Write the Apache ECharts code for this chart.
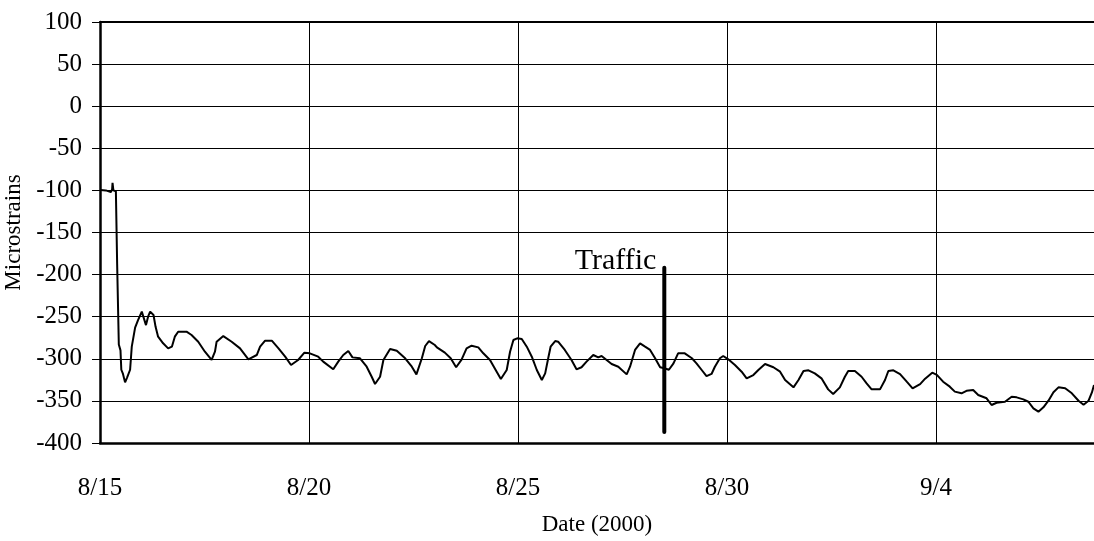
<!DOCTYPE html>
<html>
<head>
<meta charset="utf-8">
<script src="https://cdn.jsdelivr.net/npm/echarts@6/dist/echarts.min.js"></script>
<style>
  html, body { margin: 0; padding: 0; background: #fff; }
  #chart { width: 1094px; height: 541px; }
</style>
</head>
<body>
<div id="chart"></div>
<script>
// Strain gauge record, days counted from 8/15/2000 00:00
const days = [
  0.01, 0.14, 0.17, 0.26, 0.29, 0.30, 0.32, 0.38, 0.41, 0.44, 0.45, 0.49, 0.51, 0.55, 0.60, 0.65,
  0.72, 0.76, 0.84, 0.91, 1.00, 1.04, 1.10, 1.15, 1.20, 1.28, 1.33, 1.39, 1.51, 1.63, 1.72, 1.79,
  1.87, 2.07, 2.19, 2.35, 2.51, 2.67, 2.75, 2.79, 2.95, 3.15, 3.35, 3.55, 3.75, 3.83, 3.95, 4.11,
  4.27, 4.43, 4.57, 4.74, 4.89, 5.02, 5.22, 5.34, 5.58, 5.70, 5.82, 5.94, 6.04, 6.22, 6.38, 6.50,
  6.58, 6.70, 6.78, 6.94, 7.10, 7.30, 7.46, 7.57, 7.70, 7.78, 7.87, 8.01, 8.06, 8.25, 8.39, 8.52,
  8.65, 8.77, 8.89, 9.05, 9.17, 9.33, 9.49, 9.59, 9.73, 9.81, 9.89, 9.98, 10.09, 10.21, 10.33, 10.45,
  10.57, 10.65, 10.73, 10.78, 10.89, 10.96, 11.12, 11.28, 11.40, 11.52, 11.64, 11.80, 11.92, 12.00, 12.12, 12.24,
  12.40, 12.60, 12.68, 12.80, 12.92, 13.04, 13.16, 13.28, 13.40, 13.48, 13.61, 13.72, 13.83, 13.99, 14.16, 14.27,
  14.39, 14.51, 14.63, 14.71, 14.83, 14.91, 15.03, 15.19, 15.35, 15.47, 15.63, 15.75, 15.91, 16.11, 16.27, 16.39,
  16.59, 16.71, 16.83, 16.95, 17.10, 17.26, 17.42, 17.54, 17.70, 17.82, 17.90, 18.06, 18.22, 18.34, 18.46, 18.66,
  18.78, 18.86, 18.98, 19.14, 19.30, 19.44, 19.62, 19.74, 19.91, 20.02, 20.17, 20.33, 20.45, 20.61, 20.73, 20.89,
  21.01, 21.21, 21.33, 21.45, 21.65, 21.81, 21.93, 22.09, 22.21, 22.33, 22.45, 22.57, 22.69, 22.81, 22.93, 23.09,
  23.25, 23.41, 23.53, 23.65, 23.73, 23.78
];
const microstrains = [
  -99.5, -100, -102, -102, -99, -91, -100, -101, -187, -187, -283, -290, -313, -318, -328, -322,
  -313, -285.6, -263, -254, -244, -245, -260, -250, -244, -248, -262, -273.7, -281.6, -287.6, -285.6, -273.7,
  -267.8, -267.8, -271.7, -279.7, -291.6, -301.4, -291.6, -279.7, -273, -279.7, -287.6, -300.6, -295.5, -285.6, -278.5, -278.5,
  -287.6, -297.5, -307.4, -301.4, -292.7, -293.5, -297.5, -303.4, -312.5, -303.4, -295.5, -290.7, -298.3, -299.4, -309.4, -321.3,
  -329.9, -321.3, -301.4, -288.4, -290.4, -299.4, -309.4, -318.5, -299.4, -284.8, -279, -283.6, -286.4, -292.7, -299.4, -310,
  -301, -287.6, -284.4, -286.4, -293.5, -301.4, -315.3, -324, -313.3, -291.6, -277.7, -275.7, -276.5, -285.6, -297.5, -313.3,
  -325.2, -317.3, -297.5, -285.6, -278.9, -279.7, -289.5, -301.4, -312.5, -310, -303.4, -295.5, -298.3, -296.7, -301.4, -306.2,
  -309.4, -318.5, -309.4, -289.5, -281.6, -285.6, -289.5, -299.4, -310, -311, -313, -305.4, -293.5, -293.5, -299.4, -305.4,
  -313, -320.6, -318, -309.4, -299.4, -296.7, -300.6, -307.4, -315.3, -323.2, -319.3, -313.3, -306.2, -310, -315.3, -325.2,
  -333.9, -325.2, -314.5, -313.7, -317.3, -323.2, -336.3, -341.8, -333.9, -321.3, -314.5, -314.5, -321.3, -329.2, -336.3, -336.3,
  -325.2, -314.5, -313.7, -318.1, -327.2, -335.1, -330, -323.6, -316.5, -319, -327.2, -333.1, -339, -341, -338, -337.1,
  -343, -346.9, -354.9, -352.2, -351, -345, -345.8, -348.2, -351, -358.8, -362.8, -357.6, -349.8, -339.8, -333.9, -335,
  -341, -349.8, -354.5, -349.8, -340, -331
];

// Date tick labels every 5 days
const dateLabels = ['8/15', '8/20', '8/25', '8/30', '9/4'];
const dayEnd = 23.78;

// Onset of traffic loading
const trafficDay = 13.5;
const trafficSpan = [-192, -387];
const trafficText = 'Traffic';

const font = 'Liberation Serif, Times New Roman, serif';
const curve = days.map((d, i) => [d, microstrains[i]]);

const chart = echarts.init(document.getElementById('chart'), null, { renderer: 'canvas' });
chart.setOption({
  animation: false,
  backgroundColor: '#ffffff',
  grid: { left: 100, right: 0, top: 22, bottom: 98, containLabel: false, outerBoundsMode: 'none' },
  xAxis: [{
    type: 'value',
    min: 0,
    max: dayEnd,
    interval: 5,
    name: 'Date (2000)',
    nameLocation: 'middle',
    nameGap: 70,
    nameTextStyle: { fontFamily: font, fontSize: 23, color: '#000' },
    axisLine: { show: true, onZero: false, lineStyle: { color: '#000', width: 2.5 } },
    axisTick: { show: false },
    axisLabel: {
      margin: 33,
      fontFamily: font, fontSize: 25, color: '#000',
      showMaxLabel: false,
      formatter: v => (Math.abs(v % 5) < 1e-9 ? (dateLabels[Math.round(v / 5)] || '') : '')
    },
    splitLine: { show: true, lineStyle: { color: '#000', width: 1 } }
  }, {
    type: 'value',
    position: 'top',
    min: 0,
    max: dayEnd,
    interval: 5,
    axisLine: { show: true, onZero: false, lineStyle: { color: '#000', width: 2 } },
    axisTick: { show: false },
    axisLabel: { show: false },
    splitLine: { show: false }
  }],
  yAxis: {
    type: 'value',
    min: -400,
    max: 100,
    interval: 50,
    name: 'Microstrains',
    nameLocation: 'middle',
    nameGap: 70,
    nameTextStyle: { fontFamily: font, fontSize: 23, color: '#000' },
    axisLine: { show: true, onZero: false, lineStyle: { color: '#000', width: 2.5 } },
    axisTick: { show: true, length: 8, lineStyle: { color: '#000', width: 1 } },
    axisLabel: { margin: 18, fontFamily: font, fontSize: 25, color: '#000' },
    splitLine: { show: true, lineStyle: { color: '#000', width: 1 } }
  },
  series: [{
    type: 'line',
    data: curve,
    showSymbol: false,
    symbol: 'none',
    lineStyle: { color: '#000', width: 2 },
    z: 3
  }, {
    type: 'line',
    data: [
      { value: [trafficDay, trafficSpan[0]],
        label: { show: true, formatter: trafficText, position: 'left', distance: 8, offset: [0, -7],
                 fontFamily: font, fontSize: 30, color: '#000' } },
      { value: [trafficDay, trafficSpan[1]] }
    ],
    showSymbol: true,
    symbol: 'circle',
    symbolSize: 0,
    itemStyle: { color: '#000' },
    lineStyle: { color: '#000', width: 4, cap: 'round' },
    z: 4
  }]
});
</script>
</body>
</html>
